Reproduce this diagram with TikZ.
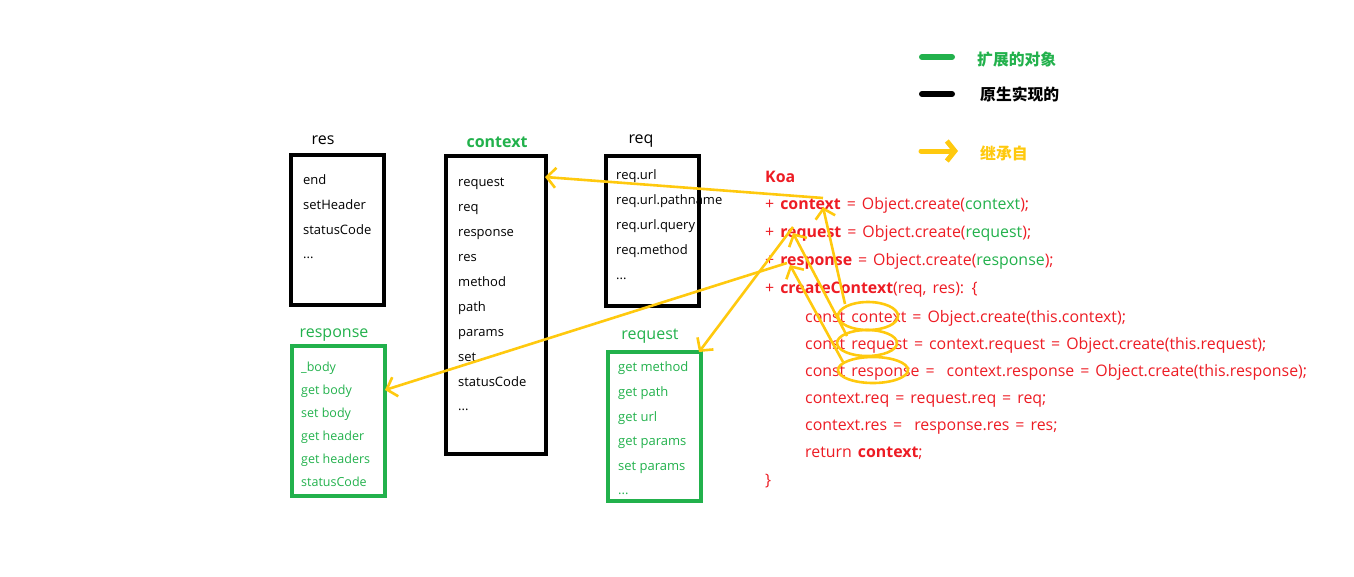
\documentclass[tikz,border=0pt]{standalone}
\usepackage{fontspec}
\setmainfont{Open Sans}
\newfontfamily\cjk{Noto Sans CJK SC}
\usetikzlibrary{arrows.meta}
\definecolor{pgreen}{RGB}{34,177,76}
\definecolor{pred}{RGB}{237,28,36}
\definecolor{pyellow}{RGB}{255,201,14}
\newcommand\mycodefont{\fontsize{15.9}{18}\selectfont\spaceskip=6pt plus 1pt\relax}
\begin{document}
\begin{tikzpicture}[x=1pt,y=-1pt,
  blackbox/.style={draw=black, line width=4.5pt},
  greenbox/.style={draw=pgreen, line width=4.5pt},
  item/.style={anchor=base west, inner sep=0pt, font=\fontsize{13}{15}\selectfont},
  smallitem/.style={anchor=base west, inner sep=0pt, font=\fontsize{12.5}{14}\selectfont, text=pgreen},
  reqitem/.style={anchor=base west, inner sep=0pt, font=\fontsize{13}{15}\selectfont, text=pgreen},
  title/.style={anchor=base, inner sep=0pt, font=\fontsize{16}{18}\selectfont},
  code/.style={anchor=base west, inner sep=0pt, font=\mycodefont, text=pred},
  inherit/.style={draw=pyellow, line width=2.6pt, -{Straight Barb[length=9pt,width=20pt,line width=2.6pt]}},
  ring/.style={draw=pyellow, line width=2.6pt},
  legline/.style={line width=6pt, line cap=round},
  legtext/.style={anchor=west, inner sep=0pt, font=\cjk\bfseries\fontsize{15.8}{17}\selectfont}
]
\useasboundingbox (0,0) rectangle (1354,576);

% ---- boxes ----
\draw[blackbox] (291,155) rectangle (384,305);
\draw[blackbox] (446,156) rectangle (546,454);
\draw[blackbox] (606,156) rectangle (699,306);
\draw[greenbox] (292,346) rectangle (385,496);
\draw[greenbox] (608,352) rectangle (701,501);

% ---- titles ----
\node[title] (tres) at (323,144) {res};
\node[title, text=pgreen, font=\bfseries\fontsize{16}{18}\selectfont] (tctx) at (497,147) {context};
\node[title] (treq) at (641,143) {req};
\node[title, text=pgreen] (tresp) at (334,337) {response};
\node[title, text=pgreen] (treqst) at (650,339) {request};

% ---- res items ----
\node[item] (r1) at (303,184) {end};
\node[item] (r2) at (303,209) {setHeader};
\node[item] (r3) at (303,234) {statusCode};
\node[item] (r4) at (303,258) {...};

% ---- context items ----
\node[item] (c1) at (458,186) {request};
\node[item] (c2) at (458,211) {req};
\node[item] (c3) at (458,236) {response};
\node[item] (c4) at (458,261) {res};
\node[item] (c5) at (458,286) {method};
\node[item] (c6) at (458,311) {path};
\node[item] (c7) at (458,336) {params};
\node[item] (c8) at (458,361) {set};
\node[item] (c9) at (458,386) {statusCode};
\node[item] (c10) at (458,410) {...};

% ---- req items ----
\node[item] (q1) at (616,179) {req.url};
\node[item] (q2) at (616,204) {req.url.pathname};
\node[item] (q3) at (616,229) {req.url.query};
\node[item] (q4) at (616,254) {req.method};
\node[item] (q5) at (616,279) {...};

% ---- response items ----
\node[smallitem] (p1) at (301,371) {\_body};
\node[smallitem] (p2) at (301,394) {get body};
\node[smallitem] (p3) at (301,417) {set body};
\node[smallitem] (p4) at (301,440) {get header};
\node[smallitem] (p5) at (301,463) {get headers};
\node[smallitem] (p6) at (301,486) {statusCode};

% ---- request items ----
\node[reqitem] (s1) at (618,371) {get method};
\node[reqitem] (s2) at (618,396) {get path};
\node[reqitem] (s3) at (618,421) {get url};
\node[reqitem] (s4) at (618,445) {get params};
\node[reqitem] (s5) at (618,470) {set params};
\node[reqitem] (s6) at (618,494) {...};

% ---- code ----
\node[code, font=\mycodefont\bfseries] (koa) at (765,182) {Koa};
\node[code] (k1) at (765,209) {+ \textbf{context} = Object.create(\textcolor{pgreen}{context});};
\node[code] (k2) at (765,237) {+ \textbf{request} = Object.create(\textcolor{pgreen}{request});};
\node[code] (k3) at (765,265) {+ \textbf{response} = Object.create(\textcolor{pgreen}{response});};
\node[code] (k4) at (765,293) {+ \textbf{createContext}(req, res): \{};
\node[code] (k5) at (805,322) {const context = Object.create(this.context);};
\node[code] (k6) at (805,349) {const request = context.request = Object.create(this.request);};
\node[code] (k7) at (805,376) {const response =~ context.response = Object.create(this.response);};
\node[code] (k8) at (805,403) {context.req = request.req = req;};
\node[code] (k9) at (805,430) {context.res =~ response.res = res;};
\node[code] (k10) at (805,457) {return \textbf{context};};
\node[code] (k11) at (765,485) {\}};

% ---- ellipses ----
\draw[ring] (868,316) ellipse [x radius=30, y radius=14];
\draw[ring] (867,343) ellipse [x radius=30, y radius=13];
\draw[ring] (873,370) ellipse [x radius=35, y radius=13];

% ---- inheritance arrows ----
\coordinate (a1s) at (823,198);
\coordinate (a1e) at (545,177);
\coordinate (a2s) at (793,227);
\coordinate (a2e) at (699,352);
\coordinate (a3s) at (787,263);
\coordinate (a3e) at (385,390);
\coordinate (e1) at (845,304);
\coordinate (h1) at (823,207);
\coordinate (e2) at (847,336);
\coordinate (h2) at (793,233);
\coordinate (e3) at (843,362);
\coordinate (h3) at (790,265);
\draw[inherit] (a1s) -- (a1e);
\draw[inherit] (a2s) -- (a2e);
\draw[inherit] (a3s) -- (a3e);
\draw[inherit] (e1) -- (h1);
\draw[inherit] (e2) -- (h2);
\draw[inherit] (e3) -- (h3);

% ---- legend ----
\coordinate (lg1) at (922,57);
\coordinate (lg2) at (952,57);
\coordinate (lb1) at (922,94);
\coordinate (lb2) at (952,94);
\coordinate (ly1) at (921,151);
\coordinate (ly2) at (958,151);
\draw[legline, pgreen] (lg1) -- (lg2);
\draw[legline, black] (lb1) -- (lb2);
\draw[draw=pyellow, line width=5pt, line cap=round, -{Straight Barb[length=8pt,width=20pt,line width=5pt]}] (ly1) -- (ly2);
\node[legtext, text=pgreen] (lt1) at (977,60) {扩展的对象};
\node[legtext, text=black] (lt2) at (980,94) {原生实现的};
\node[legtext, text=pyellow] (lt3) at (980,153) {继承自};
\end{tikzpicture}
\end{document}
